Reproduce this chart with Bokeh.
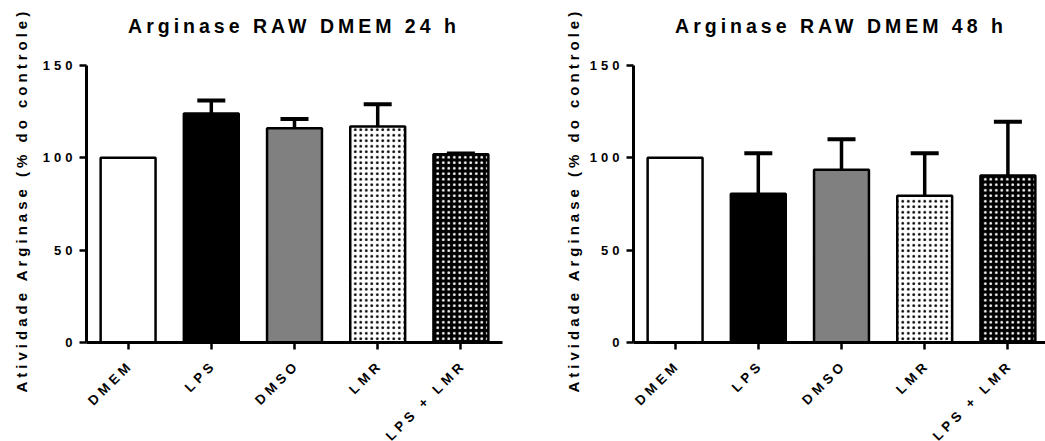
import math
from bokeh.plotting import figure
from bokeh.layouts import row
from bokeh.models import (ColumnDataSource, Range1d, FixedTicker, Whisker, TeeHead, Label,
                          LabelSet, LinearAxis)
from bokeh.core.properties import value
from bokeh.embed import file_html
from bokeh.resources import INLINE

categories = ["DMEM", "LPS", "DMSO", "LMR", "LPS + LMR"]
mean_24h = [100, 124, 116, 117, 102]
sem_24h = [0, 7, 5, 12, 0.4]
mean_48h = [100, 80.5, 93.5, 79.5, 90.5]
sem_48h = [0, 22, 16.5, 23, 29]
titles = ["Arginase RAW DMEM 24 h", "Arginase RAW DMEM 48 h"]
y_label = "Atividade Arginase (% do controle)"
y_ticks = [0, 50, 100, 150]

fills = ["white", "black", "#808080", "white", "black"]
hatches = [" ", " ", " ", "dot", "dot"]
hatch_colors = ["black", "black", "black", "black", "white"]

FONT = "Liberation Sans"
LS = 4.0  # letter spacing in px (wide Prism-like tracking)
SPACING = ":host { letter-spacing: %.1fpx; }" % LS
C45 = math.cos(math.pi / 4)

H = 441
PX_X = 83.2          # pixels per category
Y_TOP_PX, Y_ZERO_PX = 65, 342
PX_Y = (Y_ZERO_PX - Y_TOP_PX) / 150.0


def make_panel(title, means, sems, width, axis_px, ylab_dx):
    xs = list(range(len(categories)))
    x_start = -0.5 - axis_px / PX_X
    x_end = x_start + width / PX_X
    y_end = 150 + Y_TOP_PX / PX_Y
    y_start = y_end - H / PX_Y
    p = figure(width=width, height=H, output_backend="svg", toolbar_location=None,
               x_range=Range1d(x_start, x_end), y_range=Range1d(y_start, y_end),
               x_axis_location=None, y_axis_location=None,
               min_border_left=0, min_border_right=0, min_border_top=0, min_border_bottom=0,
               stylesheets=[SPACING])
    p.outline_line_color = None
    p.grid.visible = False
    p.background_fill_color = "white"
    p.border_fill_color = "white"

    src = ColumnDataSource(dict(x=xs, top=means, fill=fills, hatch=hatches, hcol=hatch_colors))
    p.vbar(x="x", top="top", width=0.66, bottom=0, source=src, fill_color="fill",
           line_color="black", line_width=2.5, hatch_pattern="hatch", hatch_color="hcol",
           hatch_scale=5.5, hatch_weight=0.4)

    ex = [x for x, s in zip(xs, sems) if s > 0]
    elow = [m for m, s in zip(means, sems) if s > 0]
    eup = [m + s for m, s in zip(means, sems) if s > 0]
    esrc = ColumnDataSource(dict(x=ex, lower=elow, upper=eup))
    p.add_layout(Whisker(base="x", lower="lower", upper="upper", source=esrc,
                         line_width=3.5, line_color="black",
                         upper_head=TeeHead(size=28, line_width=4, line_color="black"),
                         lower_head=None))

    xaxis = LinearAxis(fixed_location=0, bounds=(-0.5, min(4.5, x_end)),
                       ticker=FixedTicker(ticks=xs),
                       major_label_overrides={i: "" for i in xs})
    yaxis = LinearAxis(fixed_location=-0.5, bounds=(0, 150),
                       ticker=FixedTicker(ticks=y_ticks),
                       major_label_overrides={t: "" for t in y_ticks})
    for ax in (xaxis, yaxis):
        ax.axis_line_width = 3
        ax.axis_line_color = "black"
        ax.major_tick_line_width = 2.5
        ax.major_tick_line_color = "black"
        ax.major_tick_out = 7
        ax.major_tick_in = 0
        ax.minor_tick_line_color = None
    p.add_layout(xaxis, "below")
    p.add_layout(yaxis, "left")

    # title
    p.add_layout(Label(x=0, y=150, y_offset=40, text=title, text_align="left",
                       text_baseline="middle", text_font=FONT, text_font_size="19.5px",
                       text_font_style="bold", text_color="black"))

    # y-axis label (reads bottom to top, starts near the bottom)
    p.add_layout(Label(x=-0.5, y=0, x_offset=ylab_dx, y_offset=-50, angle=math.pi / 2,
                       text=y_label, text_align="left", text_baseline="middle",
                       text_font=FONT, text_font_size="15px", text_font_style="bold",
                       text_color="black"))

    # y tick labels
    ytxt = [str(t) for t in y_ticks]
    ysrc = ColumnDataSource(dict(x=[-0.5] * len(y_ticks), y=y_ticks, text=ytxt,
                                 xo=[-14 - (len(t) - 1) * LS for t in ytxt]))
    p.add_layout(LabelSet(x="x", y="y", text="text", source=ysrc, x_offset="xo",
                          text_align="right", text_baseline="middle",
                          text_font=value(FONT), text_font_size=value("13px"),
                          text_font_style="bold", text_color="black"))

    # x tick labels rotated 45 degrees, ending under each tick
    xsrc = ColumnDataSource(dict(x=xs, y=[0] * len(xs), text=categories,
                                 xo=[0 - (len(c) - 1) * LS * C45 for c in categories],
                                 yo=[-23 - (len(c) - 1) * LS * C45 for c in categories]))
    p.add_layout(LabelSet(x="x", y="y", text="text", source=xsrc, x_offset="xo", y_offset="yo",
                          angle=math.pi / 4, text_align="right", text_baseline="middle",
                          text_font=value(FONT), text_font_size=value("13.5px"),
                          text_font_style="bold", text_color="black"))
    return p


p1 = make_panel(titles[0], mean_24h, sem_24h, 520, 86, -65)
p2 = make_panel(titles[1], mean_48h, sem_48h, 525, 113, -60)

layout = row(p1, p2)
open("out.html", "w").write(file_html(layout, INLINE))
